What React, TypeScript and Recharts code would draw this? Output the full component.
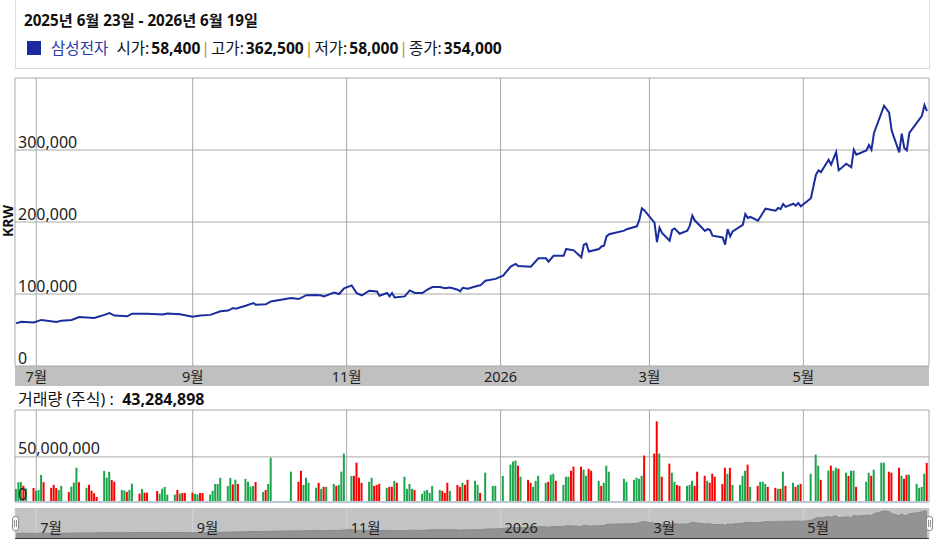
import React from 'react';
import {
  LineChart,
  Line,
  BarChart,
  Bar,
  Cell,
  AreaChart,
  Area,
  XAxis,
  YAxis,
  CartesianGrid,
  ReferenceLine
} from 'recharts';

const FONT = '"Noto Sans", "Noto Sans CJK KR", sans-serif';

// closing price, KRW
const priceDates = [
  '2025-06-23', '2025-06-25', '2025-06-30', '2025-07-03', '2025-07-09', '2025-07-11', '2025-07-15', '2025-07-18',
  '2025-07-24', '2025-07-28', '2025-07-30', '2025-08-01', '2025-08-06', '2025-08-08', '2025-08-14', '2025-08-20',
  '2025-08-22', '2025-08-27', '2025-09-01', '2025-09-04', '2025-09-08', '2025-09-12', '2025-09-15', '2025-09-17',
  '2025-09-18', '2025-09-22', '2025-09-25', '2025-09-26', '2025-09-30', '2025-10-02', '2025-10-10', '2025-10-13',
  '2025-10-16', '2025-10-20', '2025-10-22', '2025-10-23', '2025-10-27', '2025-10-29', '2025-10-31', '2025-11-03',
  '2025-11-05', '2025-11-07', '2025-11-10', '2025-11-13', '2025-11-14', '2025-11-17', '2025-11-18', '2025-11-19',
  '2025-11-20', '2025-11-24', '2025-11-26', '2025-11-28', '2025-12-01', '2025-12-03', '2025-12-05', '2025-12-08',
  '2025-12-10', '2025-12-12', '2025-12-15', '2025-12-16', '2025-12-17', '2025-12-19', '2025-12-23', '2025-12-24',
  '2025-12-26', '2025-12-30', '2026-01-02', '2026-01-05', '2026-01-07', '2026-01-08', '2026-01-13', '2026-01-16',
  '2026-01-19', '2026-01-20', '2026-01-22', '2026-01-26', '2026-01-27', '2026-01-30', '2026-02-02', '2026-02-03',
  '2026-02-04', '2026-02-05', '2026-02-09', '2026-02-10', '2026-02-11', '2026-02-12', '2026-02-13', '2026-02-19',
  '2026-02-20', '2026-02-24', '2026-02-25', '2026-02-26', '2026-02-27', '2026-03-03', '2026-03-04', '2026-03-05',
  '2026-03-06', '2026-03-09', '2026-03-10', '2026-03-11', '2026-03-13', '2026-03-16', '2026-03-17', '2026-03-18',
  '2026-03-19', '2026-03-20', '2026-03-23', '2026-03-24', '2026-03-25', '2026-03-26', '2026-03-30', '2026-03-31',
  '2026-04-01', '2026-04-02', '2026-04-03', '2026-04-07', '2026-04-08', '2026-04-09', '2026-04-10', '2026-04-13',
  '2026-04-16', '2026-04-20', '2026-04-21', '2026-04-22', '2026-04-23', '2026-04-24', '2026-04-27', '2026-04-28',
  '2026-04-29', '2026-04-30', '2026-05-04', '2026-05-06', '2026-05-07', '2026-05-08', '2026-05-11', '2026-05-12',
  '2026-05-14', '2026-05-15', '2026-05-18', '2026-05-20', '2026-05-21', '2026-05-22', '2026-05-26', '2026-05-27',
  '2026-05-28', '2026-05-29', '2026-06-02', '2026-06-04', '2026-06-05', '2026-06-08', '2026-06-09', '2026-06-10',
  '2026-06-11', '2026-06-12', '2026-06-17', '2026-06-18', '2026-06-19'
];
const priceValues = [
  59200, 61500, 60500, 64000, 61000, 63000, 64000, 68000,
  66700, 71000, 73600, 70000, 69000, 72600, 72600, 71700,
  73000, 72000, 68500, 70000, 71000, 76000, 77000, 80500,
  79600, 83700, 87500, 85000, 85600, 89700, 94400, 93000,
  98300, 98600, 98000, 96700, 102000, 100000, 108000, 112000,
  101000, 98000, 104600, 103600, 97600, 101400, 96700, 101400,
  95300, 96700, 105000, 101400, 101400, 106000, 109700, 109700,
  108000, 109000, 106000, 103600, 108700, 107400, 111500, 112000,
  118500, 121000, 125400, 138000, 141700, 139000, 138000, 149500,
  149500, 145000, 153000, 153000, 162500, 160600, 151000, 168500,
  170000, 159000, 162500, 166000, 167000, 180000, 183000, 188000,
  190000, 194000, 203000, 219000, 216000, 199000, 172000, 192000,
  184700, 174000, 189000, 191000, 183700, 188000, 195000, 209000,
  202000, 198600, 187500, 190000, 189000, 181000, 178600, 168500,
  190000, 180000, 187000, 196000, 211000, 205600, 207000, 201800,
  218500, 215700, 219400, 218000, 225000, 221000, 225400, 222600,
  226400, 221700, 233000, 265700, 271700, 269400, 286500, 279600,
  297000, 271700, 281000, 276000, 300400, 293500, 299500, 307000,
  300400, 323600, 361500, 352000, 327000, 296700, 322600, 302800,
  299500, 323600, 347600, 362500, 354000
];

// volume in millions of shares, one row per week (Mon..Fri), 0 = market closed
const firstMonday = '2025-06-23';
const weekVolumes = [
  [14.5, 22, 22, 18, 15], [15.5, 12.5, 13.3, 30, 22], [15.7, 19, 15.5, 13.4, 17.9], [11, 17, 21.5, 38, 22],
  [15.7, 19, 12.7, 9.7, 5.6], [34.5, 27, 33.5, 24.4, 22.5], [13.3, 12.7, 11.2, 13.4, 20.4], [9.3, 14.5, 10.4, 10.4, 0],
  [12.2, 9.2, 14.8, 16.7, 8.2], [8.2, 13.4, 9.3, 10, 10], [10.3, 9, 8.3, 10, 10], [8.3, 12.5, 20, 20, 26.8],
  [17.8, 26.6, 19.5, 24.8, 20], [25.6, 22.5, 17, 17.8, 22.2], [11.2, 13.4, 20, 49, 0], [0, 0, 0, 0, 33.6],
  [22.4, 34.7, 19, 26.9, 21.3], [15.7, 21.3, 14.6, 16.8, 16.8], [20.1, 17.9, 19, 33.6, 53.7], [29, 29, 43.6, 26.9, 21.3],
  [22.4, 26.9, 17.9, 19, 20.1], [15.7, 16.8, 16.8, 23.5, 21.3], [28, 14.6, 20.1, 14.6, 13.4], [9, 12.3, 13.4, 10.1, 17.9],
  [13.4, 12.3, 10.1, 21.3, 12.3], [19, 16.8, 21.3, 19, 24.6], [23.5, 19, 10.1, 0, 32.5], [17.9, 17.9, 0, 0, 29],
  [41.4, 44.8, 45.9, 40.3, 28], [24.6, 21.3, 16.8, 23.5, 29.1], [21.3, 22.4, 30.2, 31.3, 23.5], [19, 28, 28, 34.7, 39.2],
  [39.2, 35.8, 29.1, 36.9, 34.7], [23.5, 17.9, 21.3, 40.3, 33.6], [0, 0, 0, 25.7, 22.4], [24.6, 26.9, 25.7, 29.1, 51.5],
  [0, 53.7, 89.5, 53.7, 28], [42.5, 32.5, 22.4, 19, 17.9], [17.9, 19, 23.5, 17.9, 33.6], [29.1, 23.5, 21.3, 31.3, 28],
  [20.1, 38, 31.3, 38, 19], [19, 29.1, 34.7, 41.4, 16.8], [17.9, 22.4, 22.4, 20.1, 16.8], [15.7, 14.6, 14.6, 33.6, 17.9],
  [21.3, 16.8, 19, 20.1, 0], [31.3, 0, 52.6, 40.3, 24.6], [34.7, 40.3, 34.7, 38, 36.9], [32.5, 29.1, 34.7, 34.7, 16.8],
  [0, 22.4, 32.5, 29.1, 35.8], [43.6, 43.6, 0, 33.6, 32.5], [38, 29.1, 25.7, 30.2, 30.2], [20.1, 15.7, 16.8, 31.3, 43.3]
];
// G = up day, R = down day
const weekColors = [
  'GGGRG', 'RGGGR', 'RRRGG', 'RGGGR', 'GRRRR', 'GGGRR', 'GGRGG', 'RGRR-',
  'RGGGG', 'GRGRR', 'RGGRR', 'GGGGG', 'GGRGR', 'GGGGR', 'GRGG-', '----G',
  'RRGGG', 'GRGRG', 'GRGGG', 'GRRRR', 'GGRRR', 'GRRGR', 'GGGGR', 'GGGGG',
  'GRRRG', 'RRGRR', 'GGR-G', 'GG--G', 'GGGRG', 'RRGGG', 'GRGGR', 'GGGRR',
  'RGGRR', 'GRGGG', '---GG', 'GGGGR', '-RRGR', 'RGGRR', 'GGGRR', 'RGRRR',
  'RRGRG', 'GGGRG', 'RGGGR', 'RGRGR', 'GRGR-', 'G-GGR', 'GRGGR', 'GRGGR',
  '-GGRG', 'GG-RR', 'RGRRG', 'GGGGR'
];

const monthTicks = ['2025-07-01', '2025-09-01', '2025-11-01', '2026-01-01', '2026-03-01', '2026-05-01'];
const monthLabels = ['7월', '9월', '11월', '2026', '3월', '5월'];
const priceTicks = [0, 100000, 200000, 300000];
const volumeTicks = [0, 50000000];

const titleText = '2025년 6월 23일 - 2026년 6월 19일';
const seriesName = '삼성전자';
const legendLabels = ['시가', '고가', '저가', '종가'];
const legendValues = [58400, 362500, 58000, 354000];
const lastVolume = 43284898;

const GREEN = '#1ba54b';
const RED = '#fe0000';
const LINE = '#1b2d9e';
const GRID = '#a8a8a8';

const toDay = (s: string) => {
  const [y, m, d] = s.split('-').map(Number);
  return Date.UTC(y, m - 1, d) / 86400000;
};

const xStart = toDay('2025-06-22') + 0.56;
const xEnd = toDay('2026-06-19') + 0.8;
const monthDays = monthTicks.map(toDay);
const gridTicks = [xStart, ...monthDays, xEnd];
const labelOf = new Map(monthDays.map((d, i) => [d, monthLabels[i]]));

const priceData = priceDates.map((d, i) => ({ t: toDay(d), price: priceValues[i] }));

const volumeData: { t: number; v: number; c: string }[] = [];
weekVolumes.forEach((week, w) => {
  week.forEach((v, i) => {
    if (!v) return;
    volumeData.push({
      t: toDay(firstMonday) + w * 7 + i,
      v: v * 1000000,
      c: weekColors[w][i] === 'G' ? GREEN : RED
    });
  });
});

const fmt = (n: number) => n.toLocaleString('en-US');

const PriceXTick = (props: any) => {
  const label = labelOf.get(props.payload.value);
  if (!label) return <g />;
  return (
    <text x={props.x} y={382} textAnchor="middle" fontSize={14.5} fill="#222" fontFamily={FONT}>
      {label}
    </text>
  );
};

const NavXTick = (props: any) => {
  const label = labelOf.get(props.payload.value);
  if (!label) return <g />;
  return (
    <text x={props.x + 4} y={33} fontSize={14.5} fill="#222" fontFamily={FONT}>
      {label}
    </text>
  );
};

const makeYTick = (shown: number[]) => (props: any) => {
  const v = props.payload.value;
  if (!shown.includes(v)) return <g />;
  return (
    <text x={18} y={props.y - 2.5} textAnchor="start" fontSize={16} fill="#222" fontFamily={FONT}>
      {fmt(v)}
    </text>
  );
};

const Empty = () => <g />;

const Handle = ({ left }: { left: number }) => (
  <div
    style={{
      position: 'absolute', left, top: 516, width: 7, height: 15, boxSizing: 'border-box',
      background: '#fff', border: '1px solid #8a8a8a', borderRadius: 3
    }}
  >
    <div style={{ position: 'absolute', left: 1, top: 3, width: 1, height: 7, background: '#8a8a8a' }} />
    <div style={{ position: 'absolute', left: 3, top: 3, width: 1, height: 7, background: '#8a8a8a' }} />
  </div>
);

export default function App() {
  return (
    <div
      style={{
        position: 'absolute', left: 0, top: 0, width: 941, height: 547,
        overflow: 'hidden', background: '#fff', fontFamily: FONT, color: '#111'
      }}
    >
      {/* header */}
      <div style={{ position: 'absolute', left: 15, top: -1, width: 915, height: 70, border: '1px solid #dcdcdc', boxSizing: 'border-box' }} />
      <div style={{ position: 'absolute', left: 24, top: 10, fontSize: 15.2, fontWeight: 700, lineHeight: '20px', whiteSpace: 'pre' }}>
        {titleText}
      </div>
      <div style={{ position: 'absolute', left: 27, top: 41, width: 14, height: 14, background: '#1a2a9c' }} />
      <div style={{ position: 'absolute', left: 51, top: 38, fontSize: 15.6, lineHeight: '20px', display: 'flex', whiteSpace: 'pre' }}>
        <span style={{ color: '#2a3aa6', marginRight: 8 }}>{seriesName}</span>
        {legendLabels.map((l, i) => (
          <React.Fragment key={l}>
            {i > 0 && <span style={{ color: '#c8882a', margin: '0 1px' }}>|</span>}
            <span>{l}:</span>
            <span style={{ fontWeight: 700, marginLeft: 2 }}>{fmt(legendValues[i])}</span>
          </React.Fragment>
        ))}
      </div>

      {/* KRW axis title, reads bottom to top */}
      <div
        style={{
          position: 'absolute', left: 1, top: 205, lineHeight: '14px', fontSize: 14, fontWeight: 700,
          writingMode: 'vertical-rl', transform: 'rotate(180deg)'
        }}
      >
        KRW
      </div>

      {/* price chart */}
      <div style={{ position: 'absolute', left: 15, top: 366, width: 914, height: 20, background: '#c0c0c0' }} />
      <div style={{ position: 'absolute', left: 0, top: 0 }}>
        <LineChart width={941} height={390} data={priceData} margin={{ top: 78, right: 12, bottom: 4, left: 14 }}>
          <CartesianGrid stroke={GRID} />
          <XAxis
            type="number" dataKey="t" domain={[xStart, xEnd]} ticks={gridTicks} allowDataOverflow
            interval={0} axisLine={false} tickLine={false} height={20} tick={PriceXTick}
          />
          <YAxis
            type="number" domain={[0, 400000]} ticks={[...priceTicks, 400000]} allowDataOverflow
            interval={0} width={1} axisLine={false} tickLine={false} tick={makeYTick(priceTicks)}
          />
          <Line type="linear" dataKey="price" stroke={LINE} strokeWidth={2} dot={false} isAnimationActive={false} />
        </LineChart>
      </div>

      {/* volume */}
      <div style={{ position: 'absolute', left: 18, top: 389, fontSize: 16, lineHeight: '20px', whiteSpace: 'pre' }}>
        <span>거래량 (주식) :  </span>
        <span style={{ fontWeight: 700 }}>{fmt(lastVolume)}</span>
      </div>
      <div style={{ position: 'absolute', left: 0, top: 400 }}>
        <BarChart width={941} height={110} data={volumeData} margin={{ top: 10, right: 12, bottom: 7, left: 14 }}>
          <CartesianGrid stroke={GRID} />
          <XAxis
            type="number" dataKey="t" domain={[xStart, xEnd]} ticks={gridTicks} allowDataOverflow
            interval={0} axisLine={false} tickLine={false} height={1} tick={Empty}
          />
          <YAxis
            type="number" domain={[0, 102000000]} ticks={[...volumeTicks, 102000000]} allowDataOverflow
            interval={0} width={1} axisLine={false} tickLine={false} tick={makeYTick(volumeTicks)}
          />
          <Bar dataKey="v" barSize={2} isAnimationActive={false}>
            {volumeData.map((d, i) => (
              <Cell key={i} fill={d.c} />
            ))}
          </Bar>
          <ReferenceLine y={0} stroke="#b9c9d8" strokeWidth={2} />
        </BarChart>
      </div>

      {/* navigator */}
      <div style={{ position: 'absolute', left: 15, top: 508, width: 914, height: 30, background: '#c3c3c3', borderBottom: '1px solid #333' }} />
      <div style={{ position: 'absolute', left: 0, top: 500 }}>
        <AreaChart width={941} height={42} data={priceData} margin={{ top: 8, right: 12, bottom: 3, left: 15 }}>
          <CartesianGrid stroke="#d2d2d2" horizontal={false} />
          <XAxis
            type="number" dataKey="t" domain={[xStart, xEnd]} ticks={monthDays} allowDataOverflow
            interval={0} axisLine={false} tickLine={false} height={1} tick={NavXTick}
          />
          <YAxis type="number" domain={[0, 400000]} hide />
          <Area type="linear" dataKey="price" stroke="#8a8a8a" fill="#939393" fillOpacity={1} isAnimationActive={false} />
        </AreaChart>
      </div>
      <Handle left={12} />
      <Handle left={926} />
    </div>
  );
}
